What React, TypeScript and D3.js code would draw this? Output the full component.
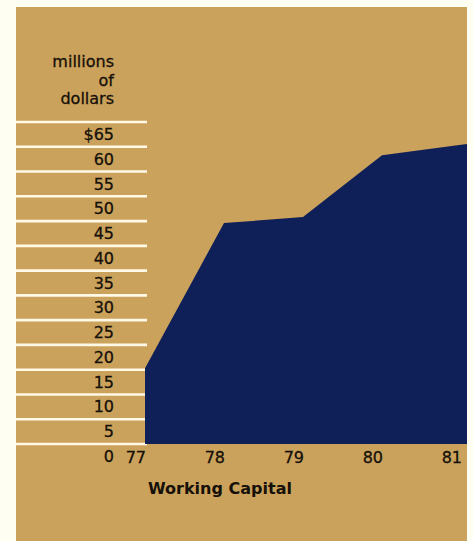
import React from "react";
import * as d3 from "d3";

const years = [77, 78, 79, 80, 81];
const values = [15.3, 44.6, 45.8, 58.3, 60.4];
const yTicks = [0, 5, 10, 15, 20, 25, 30, 35, 40, 45, 50, 55, 60, 65];
const yTickLabels = ["0", "5", "10", "15", "20", "25", "30", "35", "40", "45", "50", "55", "60", "$65"];
const unitLines = ["millions", "of", "dollars"];
const title = "Working Capital";

const W = 473;
const H = 541;
const panel = { x: 16, y: 7, right: 467 };
const FONT = "'DejaVu Sans', Verdana, sans-serif";
const INK = "#151008";

export default function App() {
  const x = d3.scaleLinear().domain([77, 81]).range([145, 461]);
  const y = d3.scaleLinear().domain([0, 65]).range([444, 122]);

  const pts = years.map((yr, i) => ({ yr, v: values[i] }));
  const last = pts[pts.length - 1];
  const prev = pts[pts.length - 2];
  const edgeYr = x.invert(panel.right);
  const slope = (last.v - prev.v) / (last.yr - prev.yr);
  const ext = [...pts, { yr: edgeYr, v: last.v + slope * (edgeYr - last.yr) }];

  const area = d3
    .area<{ yr: number; v: number }>()
    .x((d) => x(d.yr))
    .y0(y(0))
    .y1((d) => y(d.v));

  const textProps = {
    fontFamily: FONT,
    fontSize: 16,
    fill: INK,
    stroke: INK,
    strokeWidth: 0.3,
  };

  return (
    <svg
      width={W}
      height={H}
      style={{ position: "absolute", left: 0, top: 0, display: "block" }}
    >
      <rect x={0} y={0} width={W} height={H} fill="#FFFEF2" />
      <rect x={panel.x} y={panel.y} width={panel.right - panel.x} height={H - panel.y} fill="#CBA25C" />

      {unitLines.map((t, i) => (
        <text key={t} x={114} y={[67, 86, 104][i]} textAnchor="end" {...textProps}>
          {t}
        </text>
      ))}

      {yTicks.map((v, i) => (
        <g key={v}>
          <line x1={panel.x} x2={147} y1={y(v)} y2={y(v)} stroke="#FFF9E6" strokeWidth={2.6} />
          <text x={114} y={y(v) + 18} textAnchor="end" {...textProps}>
            {yTickLabels[i]}
          </text>
        </g>
      ))}

      <path d={area(ext) || ""} fill="#0F1F57" />

      {years.map((yr) => (
        <text key={yr} x={x(yr) + 1} y={463} textAnchor="end" {...textProps}>
          {String(yr)}
        </text>
      ))}

      <text x={148} y={494} fontFamily={FONT} fontSize={16} fontWeight="bold" fill={INK}>
        {title}
      </text>
    </svg>
  );
}
